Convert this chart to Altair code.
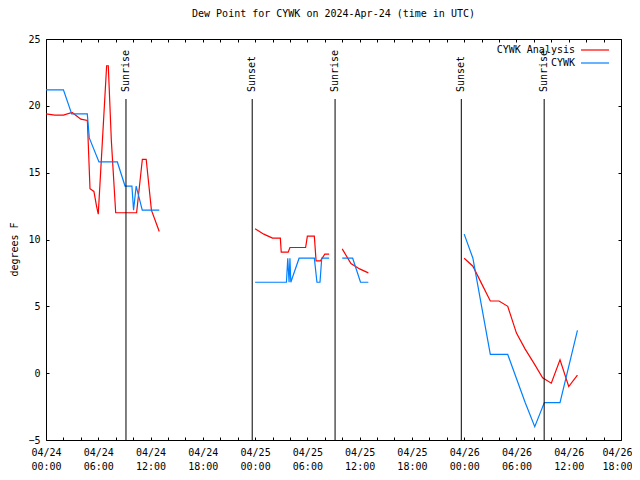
import altair as alt
import pandas as pd

# ---------------- data (hours since 2024-04-24 00:00 UTC) ----------------
red_hours = [
    [0, 1, 2, 3, 4, 4.75, 5.05, 5.5, 5.8, 6.0, 6.96, 7.15, 7.5, 8.0, 9.2, 10.4, 11.06, 11.5, 12.1, 13.0],
    [24.0, 25.0, 26.0, 26.9, 27.0, 27.8, 28.0, 29.8, 30.0, 30.8, 31.0, 31.5, 32.0, 32.5],
    [34.0, 35.0, 36.0, 37.0],
    [48, 49, 50, 51, 52, 53, 54, 55, 56, 57, 58, 59, 60, 61],
]
red_vals = [
    [19.4, 19.3, 19.3, 19.5, 19.0, 18.9, 13.8, 13.6, 12.5, 11.9, 23.0, 23.0, 17.4, 12.0, 12.0, 12.0, 16.0, 16.0, 12.2, 10.6],
    [10.8, 10.4, 10.1, 10.1, 9.05, 9.05, 9.4, 9.4, 10.25, 10.25, 8.4, 8.4, 8.9, 8.9],
    [9.3, 8.2, 7.8, 7.5],
    [8.6, 8.0, 6.7, 5.4, 5.4, 5.0, 3.0, 1.8, 0.75, -0.35, -0.75, 1.0, -1.0, -0.15],
]
blue_hours = [
    [0, 2.0, 2.95, 4.74, 4.97, 6.08, 8.19, 9.07, 9.86, 10.05, 10.35, 11.05, 13.0],
    [24.0, 27.6, 27.75, 27.9, 28.0, 28.1, 29.05, 30.8, 31.1, 31.45, 31.65, 32.5],
    [34.0, 35.2, 36.1, 37.0],
    [48, 49, 50, 51, 52, 53, 54, 55, 56.1, 57.2, 58, 59, 61],
]
blue_vals = [
    [21.2, 21.2, 19.4, 19.4, 17.6, 15.8, 15.8, 14.0, 14.0, 12.2, 14.0, 12.2, 12.2],
    [6.8, 6.8, 8.6, 6.8, 8.6, 6.8, 8.6, 8.6, 6.8, 6.8, 8.6, 8.6],
    [8.6, 8.6, 6.8, 6.8],
    [10.4, 8.6, 5.0, 1.4, 1.4, 1.4, -0.4, -2.2, -4.0, -2.2, -2.2, -2.2, 3.2],
]
series_names = ["CYWK Analysis", "CYWK"]
series_colors = ["#ff0000", "#0080ff"]

event_hours = [9.18, 23.67, 33.18, 47.67, 57.18]
event_labels = ["Sunrise", "Sunset", "Sunrise", "Sunset", "Sunrise"]

x_ticks = list(range(0, 67, 2))
y_ticks = [-5, 0, 5, 10, 15, 20, 25]
tick_labels = ["04/24 00:00", "04/24 06:00", "04/24 12:00", "04/24 18:00",
               "04/25 00:00", "04/25 06:00", "04/25 12:00", "04/25 18:00",
               "04/26 00:00", "04/26 06:00", "04/26 12:00", "04/26 18:00"]

title_text = "Dew Point for CYWK on 2024-Apr-24 (time in UTC)"
y_title = "degrees F"

# ---------------- build tables ----------------
rows = []
for name, hs_list, vs_list in [(series_names[0], red_hours, red_vals),
                               (series_names[1], blue_hours, blue_vals)]:
    for seg, (hs, vs) in enumerate(zip(hs_list, vs_list)):
        for h, v in zip(hs, vs):
            rows.append({"series": name, "seg": seg, "hour": h, "value": v})
df = pd.DataFrame(rows)
ev = pd.DataFrame({"hour": event_hours, "label": event_labels})
leg = pd.DataFrame({"series": series_names, "row": [0, 1]})

FONT = "DejaVu Sans Mono"
W, H = 575, 401

lab_js = "[" + ",".join("'" + t + "'" for t in tick_labels) + "]"
label_expr = "datum.value % 6 == 0 ? split(" + lab_js + "[datum.value / 6], ' ') : ''"

xscale = alt.Scale(domain=[0, 66], nice=False, zero=False)
yscale = alt.Scale(domain=[-5, 25], nice=False, zero=False)
cscale = alt.Scale(domain=series_names, range=series_colors)

lines = alt.Chart(df).mark_line(strokeWidth=1.2).encode(
    x=alt.X("hour:Q", scale=xscale, axis=alt.Axis(
        values=x_ticks, labelExpr=label_expr, orient="bottom", offset=-3, tickSize=3,
        domain=False, grid=False, labelPadding=7, title=None, labelFont=FONT,
        labelFontSize=10, labelLineHeight=14, labelColor="black", tickColor="black",
        labelAngle=0, labelOverlap=False, labelFlush=False, labelBaseline="top",
        labelOffset={"condition": {"test": "datum.value == 66", "value": -4}, "value": 0})),
    y=alt.Y("value:Q", scale=yscale, axis=alt.Axis(
        values=y_ticks, orient="left", offset=-3, tickSize=3, domain=False, grid=False,
        labelPadding=6, labelFont=FONT, labelFontSize=10, labelColor="black",
        tickColor="black", title=y_title, titleFont=FONT, titleFontSize=10,
        titleFontWeight="normal", titleColor="black", titleAngle=270,
        titleX=-35, titleY=210, titleBaseline="middle", titleAlign="center")),
    color=alt.Color("series:N", scale=cscale, legend=None),
    detail="seg:N",
)

mirror = alt.Chart(df).mark_point(opacity=0).encode(
    x=alt.X("hour:Q", scale=xscale, axis=alt.Axis(
        values=x_ticks, orient="top", offset=-3, tickSize=3, labels=False,
        domain=False, grid=False, title=None, tickColor="black")),
    y=alt.Y("value:Q", scale=yscale, axis=alt.Axis(
        values=y_ticks, orient="right", offset=-3, tickSize=3, labels=False,
        domain=False, grid=False, title=None, tickColor="black")),
)

ev_rules = alt.Chart(ev).mark_rule(color="black", strokeWidth=1).encode(
    x=alt.X("hour:Q", scale=xscale, axis=None),
    y=alt.value(60),
    y2=alt.value(H),
)
ev_text = alt.Chart(ev).mark_text(
    angle=270, align="left", baseline="middle", font=FONT, fontSize=10, color="black"
).encode(
    x=alt.X("hour:Q", scale=xscale, axis=None),
    y=alt.value(53),
    text="label:N",
)

leg_base = alt.Chart(leg).transform_calculate(py="11 + 13 * datum.row")
leg_text = leg_base.mark_text(align="right", baseline="middle", font=FONT,
                              fontSize=10, color="black").encode(
    x=alt.value(529),
    y=alt.Y("py:Q", scale=None, axis=None),
    text="series:N",
)
leg_line = leg_base.mark_rule(strokeWidth=1.2).encode(
    x=alt.value(535),
    x2=alt.value(563),
    y=alt.Y("py:Q", scale=None, axis=None),
    color=alt.Color("series:N", scale=cscale, legend=None),
)

chart = alt.layer(lines, mirror, ev_rules, ev_text, leg_line, leg_text).resolve_axis(
    x="independent", y="independent"
).properties(
    width=W, height=H,
    title=alt.Title(title_text, font=FONT, fontSize=10, fontWeight="normal",
                    color="black", anchor="middle", offset=15),
    autosize=alt.AutoSizeParams(type="none"),
    padding={"left": 38, "top": 31, "right": 11, "bottom": 32},
).configure_view(stroke="black", strokeWidth=1)

chart.save("out.html", embed_options={"renderer": "svg", "actions": False})
